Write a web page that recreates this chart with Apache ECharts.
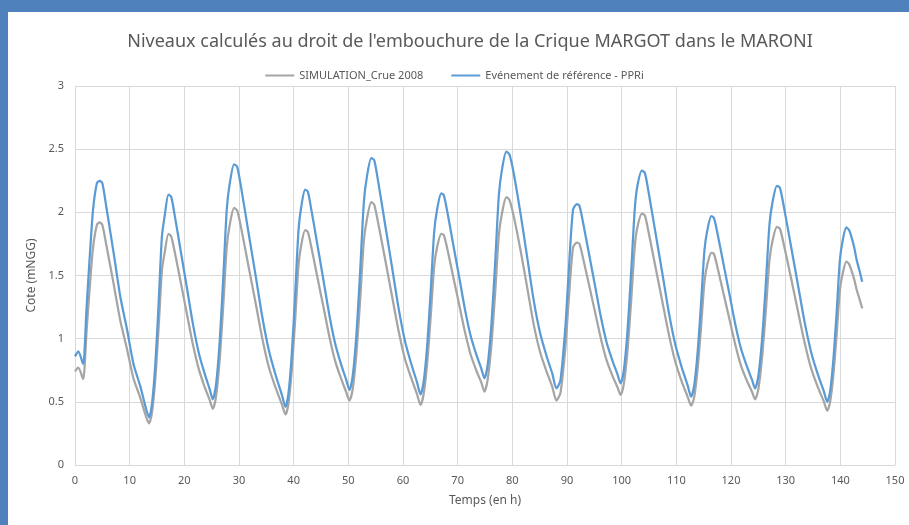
<!DOCTYPE html>
<html>
<head>
<meta charset="utf-8">
<script src="https://cdn.jsdelivr.net/npm/echarts@6/dist/echarts.min.js"></script>
<style>
  html, body { margin: 0; padding: 0; }
  body { width: 909px; height: 525px; background: #4f81bd; position: relative; overflow: hidden; }
  #panel { position: absolute; left: 8px; top: 12px; width: 901px; height: 513px; background: #ffffff; }
  #main { position: absolute; left: 0; top: 0; width: 909px; height: 525px; }
</style>
</head>
<body>
<div id="panel"></div>
<div id="main"></div>
<script>
// temps (h)
var times = [
  0, 0.6, 1.5, 1.8, 2.1, 2.7, 3.3, 4.0, 4.5, 5.0, 5.74, 7.08, 8.3, 9.53, 10.7, 11.96, 13.06, 13.55,
  14.1, 14.7, 15.3, 15.9, 16.4, 17.1, 17.59, 18.23, 19.37, 20.5, 21.56, 22.61, 23.66, 24.63, 25.2,
  25.79, 26.45, 27.11, 27.77, 28.32, 29.1, 29.66, 30.42, 31.73, 33.05, 34.27, 35.49, 36.71, 37.84, 38.5,
  39.04, 39.65, 40.26, 40.88, 41.38, 42.1, 42.59, 43.23, 44.37, 45.5, 46.56, 47.61, 48.66, 49.63, 50.2,
  50.8, 51.48, 52.16, 52.84, 53.4, 54.2, 54.74, 55.46, 56.72, 57.98, 59.15, 60.32, 61.49, 62.57, 63.2,
  63.77, 64.42, 65.06, 65.71, 66.24, 67.0, 67.47, 68.11, 69.21, 70.32, 71.35, 72.37, 73.4, 74.35, 74.9,
  75.5, 76.18, 76.86, 77.54, 78.1, 78.9, 79.45, 80.25, 81.5, 82.7, 83.9, 85.1, 86.3, 87.3, 88.06,
  88.8, 89.7, 90.3, 91.1, 91.8, 92.28, 92.92, 94.04, 95.16, 96.2, 97.24, 98.28, 99.24, 99.8,
  100.39, 101.05, 101.71, 102.37, 102.82, 103.7, 104.24, 104.96, 106.22, 107.48, 108.65, 109.82, 110.99, 112.07, 112.7,
  113.26, 113.88, 114.51, 115.14, 115.66, 116.4, 116.88, 117.52, 118.64, 119.76, 120.8, 121.84, 122.88, 123.84, 124.4,
  125.0, 125.68, 126.36, 127.04, 127.6, 128.4, 128.95, 129.69, 130.98, 132.26, 133.46, 134.66, 135.85, 136.96, 137.6,
  138.13, 138.72, 139.32, 139.91, 140.4, 141.1, 141.6, 142.0, 142.5, 143.0, 143.5, 144.0
];

// SIMULATION_Crue 2008 (gris)
var simulation = [
  0.74, 0.77, 0.68, 0.81, 1.05, 1.41, 1.72, 1.90, 1.92, 1.90, 1.74, 1.43, 1.14, 0.915, 0.685, 0.53, 0.375, 0.33,
  0.42, 0.685, 1.09, 1.54, 1.68, 1.83, 1.81, 1.69, 1.44, 1.19, 0.955, 0.765, 0.625, 0.515, 0.445,
  0.54, 0.825, 1.255, 1.73, 1.905, 2.035, 2.015, 1.87, 1.575, 1.28, 1.0, 0.77, 0.61, 0.48, 0.40,
  0.485, 0.75, 1.14, 1.58, 1.74, 1.86, 1.845, 1.725, 1.48, 1.24, 1.01, 0.82, 0.685, 0.575, 0.51,
  0.60, 0.885, 1.305, 1.775, 1.945, 2.08, 2.06, 1.915, 1.63, 1.34, 1.07, 0.845, 0.69, 0.56, 0.476,
  0.56, 0.805, 1.17, 1.575, 1.725, 1.83, 1.82, 1.71, 1.485, 1.26, 1.05, 0.875, 0.75, 0.65, 0.58,
  0.68, 0.955, 1.365, 1.825, 1.99, 2.12, 2.10, 1.97, 1.70, 1.41, 1.115, 0.89, 0.735, 0.62, 0.51,
  0.57, 0.93, 1.295, 1.72, 1.76, 1.75, 1.64, 1.425, 1.205, 1.0, 0.83, 0.71, 0.615, 0.555,
  0.64, 0.895, 1.285, 1.715, 1.87, 1.99, 1.975, 1.835, 1.56, 1.285, 1.03, 0.815, 0.66, 0.54, 0.47,
  0.535, 0.755, 1.085, 1.45, 1.585, 1.68, 1.67, 1.565, 1.355, 1.145, 0.95, 0.785, 0.67, 0.58, 0.52,
  0.60, 0.85, 1.215, 1.625, 1.775, 1.885, 1.87, 1.74, 1.48, 1.215, 0.97, 0.765, 0.62, 0.505, 0.43,
  0.50, 0.71, 1.03, 1.38, 1.51, 1.61, 1.59, 1.545, 1.475, 1.385, 1.315, 1.24
];

// Evénement de référence - PPRi (bleu)
var reference = [
  0.86, 0.90, 0.80, 0.95, 1.23, 1.65, 2.02, 2.23, 2.25, 2.23, 2.04, 1.675, 1.33, 1.07, 0.80, 0.62, 0.435, 0.377,
  0.49, 0.80, 1.28, 1.81, 1.97, 2.14, 2.124, 1.978, 1.686, 1.395, 1.119, 0.893, 0.731, 0.601, 0.52,
  0.632, 0.966, 1.469, 2.027, 2.231, 2.38, 2.361, 2.188, 1.842, 1.497, 1.170, 0.902, 0.710, 0.556, 0.46,
  0.563, 0.873, 1.337, 1.853, 2.042, 2.18, 2.164, 2.021, 1.736, 1.450, 1.180, 0.958, 0.799, 0.672, 0.593,
  0.703, 1.034, 1.530, 2.081, 2.283, 2.43, 2.411, 2.243, 1.906, 1.570, 1.252, 0.990, 0.803, 0.654, 0.56,
  0.655, 0.942, 1.371, 1.848, 2.023, 2.15, 2.135, 2.004, 1.740, 1.477, 1.228, 1.023, 0.876, 0.759, 0.686,
  0.794, 1.117, 1.601, 2.139, 2.336, 2.48, 2.46, 2.31, 1.99, 1.65, 1.305, 1.04, 0.857, 0.725, 0.607,
  0.67, 1.09, 1.52, 2.02, 2.065, 2.051, 1.923, 1.668, 1.412, 1.171, 0.972, 0.830, 0.717, 0.646,
  0.747, 1.050, 1.505, 2.010, 2.195, 2.33, 2.312, 2.151, 1.829, 1.507, 1.202, 0.952, 0.773, 0.630, 0.54,
  0.626, 0.883, 1.269, 1.698, 1.856, 1.97, 1.956, 1.834, 1.588, 1.343, 1.111, 0.920, 0.784, 0.675, 0.607,
  0.703, 0.992, 1.425, 1.905, 2.082, 2.21, 2.193, 2.039, 1.731, 1.423, 1.133, 0.893, 0.722, 0.586, 0.50,
  0.583, 0.831, 1.204, 1.618, 1.770, 1.88, 1.86, 1.81, 1.73, 1.62, 1.54, 1.45
];

var seriesNames = ['SIMULATION_Crue 2008', 'Evénement de référence - PPRi'];

var font = 'Noto Sans';
var textColor = '#595959';

function pairs(values) {
  var out = [];
  for (var i = 0; i < values.length; i++) {
    out.push([times[i], values[i]]);
  }
  return out;
}

var chartDom = document.getElementById('main');
var myChart = echarts.init(chartDom, null, { renderer: 'canvas' });

var option = {
  backgroundColor: 'transparent',
  animation: false,
  title: {
    text: "Niveaux calculés au droit de l'embouchure de la Crique MARGOT dans le MARONI",
    left: 465,
    textAlign: 'center',
    top: 28,
    textStyle: { fontFamily: font, fontSize: 18, fontWeight: 'normal', color: textColor }
  },
  legend: {
    top: 65,
    left: 'center',
    icon: 'rect',
    itemWidth: 29,
    itemHeight: 2,
    itemGap: 28,
    textStyle: { fontFamily: font, fontSize: 11, color: textColor },
    data: seriesNames
  },
  grid: {
    left: 75,
    top: 86,
    width: 820,
    height: 379
  },
  xAxis: {
    type: 'value',
    min: 0,
    max: 150,
    interval: 10,
    name: 'Temps (en h)',
    nameLocation: 'middle',
    nameGap: 30,
    nameTextStyle: { fontFamily: font, fontSize: 12, color: textColor },
    axisLine: { show: true, lineStyle: { color: '#d9d9d9' } },
    axisTick: { show: false },
    axisLabel: { fontFamily: font, fontSize: 11, color: textColor, margin: 10 },
    splitLine: { show: true, lineStyle: { color: '#d9d9d9', width: 1 } }
  },
  yAxis: {
    type: 'value',
    min: 0,
    max: 3,
    interval: 0.5,
    name: 'Cote (mNGG)',
    nameLocation: 'middle',
    nameGap: 37,
    nameTextStyle: { fontFamily: font, fontSize: 12, color: textColor },
    axisLine: { show: false },
    axisTick: { show: false },
    axisLabel: { fontFamily: font, fontSize: 11, color: textColor, margin: 11 },
    splitLine: { show: true, lineStyle: { color: '#d9d9d9', width: 1 } }
  },
  series: [
    {
      name: seriesNames[0],
      type: 'line',
      data: pairs(simulation),
      smooth: 0.25,
      symbol: 'none',
      color: '#a5a5a5',
      lineStyle: { color: '#a5a5a5', width: 2.25 }
    },
    {
      name: seriesNames[1],
      type: 'line',
      data: pairs(reference),
      smooth: 0.25,
      symbol: 'none',
      color: '#5b9bd5',
      lineStyle: { color: '#5b9bd5', width: 2.25 }
    }
  ]
};

option && myChart.setOption(option);
window.addEventListener('resize', function () {
  myChart.resize();
});
</script>
</body>
</html>
